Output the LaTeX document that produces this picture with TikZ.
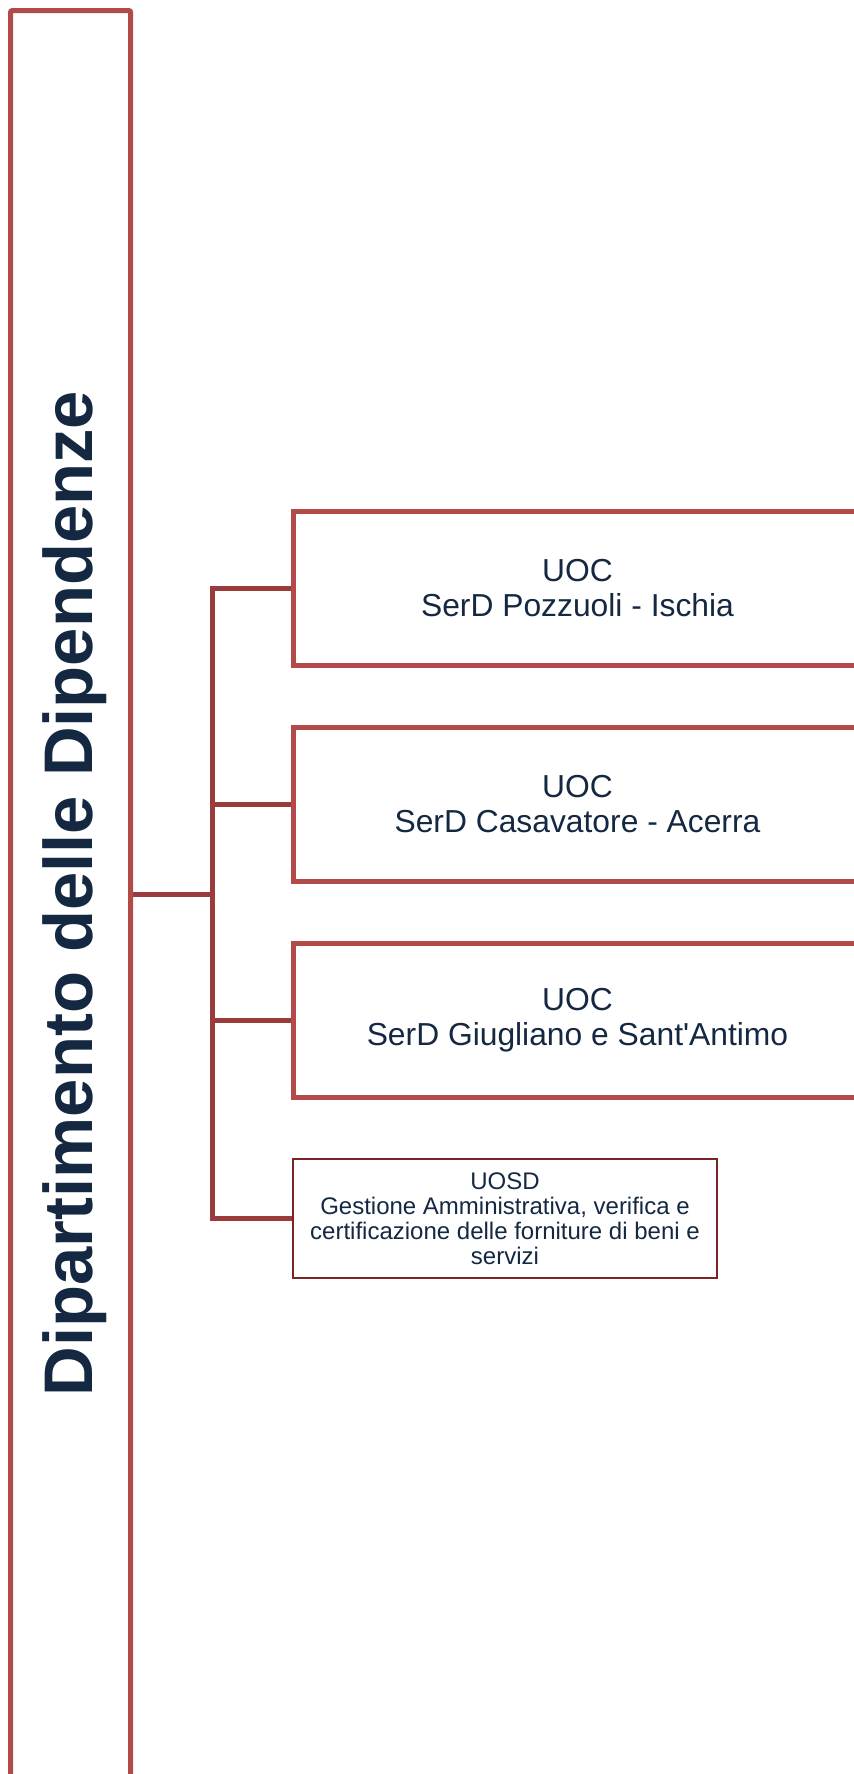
\documentclass[tikz,border=0pt]{standalone}
\usepackage{fontspec}
\setmainfont{Liberation Sans}[Ligatures=TeXOff]
\usepackage{tikz}
\usetikzlibrary{calc}
\definecolor{dipred}{HTML}{B24A47}
\definecolor{trunkred}{HTML}{9C3B3B}
\definecolor{uosdred}{HTML}{7B2424}
\definecolor{navy}{HTML}{142842}
\tikzset{
	uocbox/.style={draw=dipred, line width=2.5pt, rectangle, minimum width=284.5pt, minimum height=77pt, inner sep=0pt, align=center, text=navy, font=\fontsize{15.9}{17.8}\selectfont},
	uosdbox/.style={draw=uosdred, line width=0.75pt, rectangle, minimum width=212pt, minimum height=59.4pt, inner sep=0pt, align=center, text=navy, font=\fontsize{12}{12.5}\selectfont},
	branch/.style={draw=trunkred, line width=2.5pt}
}

\begin{document}
\begin{tikzpicture}[x=0.5pt, y=-0.5pt]
			%%%%% START %%%%%
			\useasboundingbox (0, 0) rectangle (854, 1774);
			
			\node[draw=dipred, line width=2.5pt, rounded corners=1pt, minimum width=60.1pt, minimum height=883.5pt, inner sep=0pt] (dip) at (70.6, 894) {};
			\node[rotate=90, anchor=base, text=navy, font=\fontsize{34.4}{40}\selectfont\bfseries] (diptitle) at (92, 893.5) {Dipartimento delle Dipendenze};
			
			\node[uocbox] (pozzuoli) at (577.5, 588) {UOC\\SerD Pozzuoli - Ischia};
			\node[uocbox] (casavatore) at (577.5, 804) {UOC\\SerD Casavatore - Acerra};
			\node[uocbox] (giugliano) at (577.5, 1020) {UOC\\SerD Giugliano e Sant'Antimo};
			\node[uosdbox] (gestione) at (505, 1218.5) {UOSD\\Gestione Amministrativa, verifica e\\certificazione delle forniture di beni e\\servizi};
			
			\coordinate (trunk) at (212.3, 894);
			
			\draw[branch] (dip.east) -- (trunk);
			\draw[branch, line cap=rect] (trunk |- pozzuoli.west) -- (trunk |- gestione.west);
			\draw[branch] (trunk |- pozzuoli.west) -- (pozzuoli.west);
			\draw[branch] (trunk |- casavatore.west) -- (casavatore.west);
			\draw[branch] (trunk |- giugliano.west) -- (giugliano.west);
			\draw[branch] (trunk |- gestione.west) -- (gestione.west);
			
			%%%%% END %%%%%
\end{tikzpicture}
\end{document}
